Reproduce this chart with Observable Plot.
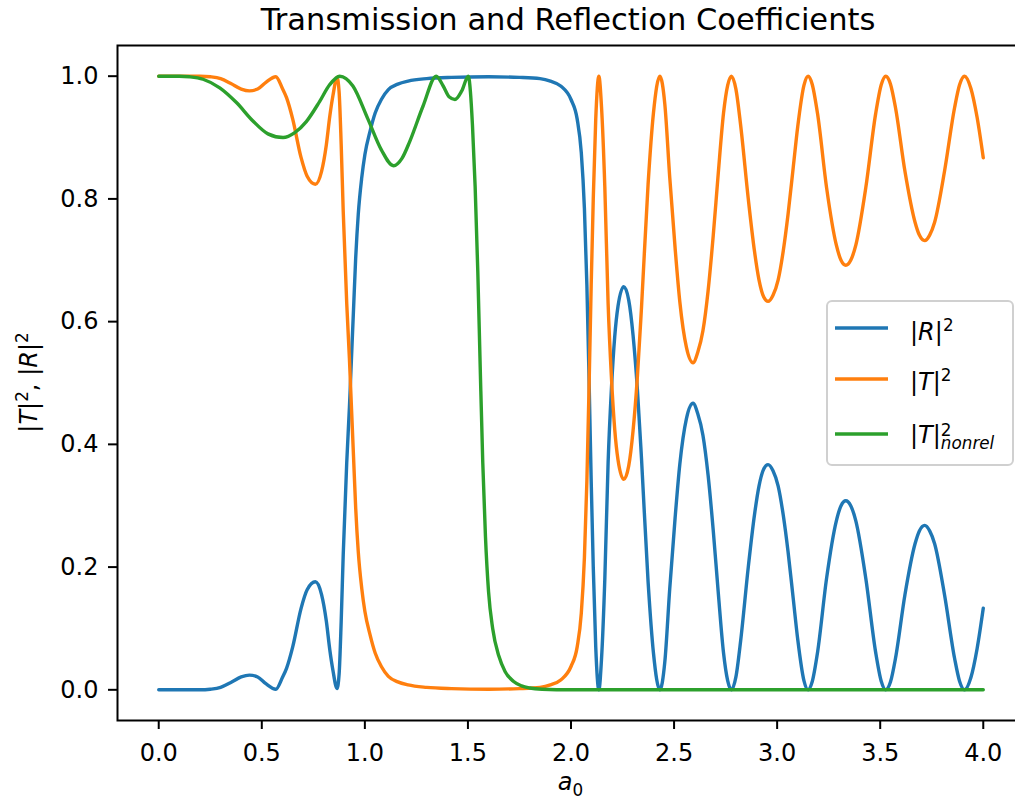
<!DOCTYPE html>
<html><head><meta charset="utf-8">
<script src="https://cdn.jsdelivr.net/npm/d3@7"></script>
<script src="https://cdn.jsdelivr.net/npm/@observablehq/plot@0.6"></script>
<style>
html,body{margin:0;padding:0;overflow:hidden;background:#fff;width:1015px;height:803px}
#chart{position:relative;width:1015px;height:803px;overflow:hidden}
</style></head><body><div id="chart"></div>
<script>
// ---- data ----
const aRel = [
 0.00,0.10,0.20,0.25,0.30,0.35,0.40,0.44,0.48,0.52,
 0.568,0.60,0.62,0.65,0.69,0.72,0.76,0.79,0.813,0.83,
 0.845,0.865,0.875,0.885,0.895,0.912,0.925,0.935,0.945,0.955,
 0.968,0.985,1.00,1.025,1.05,1.08,1.114,1.16,1.21,1.30,
 1.42,1.60,1.75,1.85,1.90,1.95,2.00,2.03,2.05,2.065,
 2.077,2.088,2.098,2.108,2.12,2.135,2.148,2.164,2.18,2.196,
 2.212,2.228,2.256,2.28,2.301,2.322,2.342,2.374,2.40,2.431,
 2.455,2.479,2.505,2.528,2.56,2.592,2.615,2.64,2.665,2.69,
 2.714,2.74,2.76,2.778,2.80,2.823,2.86,2.89,2.912,2.935,
 2.956,2.98,3.005,3.03,3.053,3.078,3.10,3.13,3.15,3.17,
 3.196,3.24,3.287,3.31,3.333,3.357,3.382,3.43,3.478,3.505,
 3.527,3.55,3.574,3.62,3.669,3.69,3.716,3.74,3.764,3.812,
 3.861,3.885,3.909,3.94,3.97,4.00
];
const T2 = [
 1.000,1.000,1.000,0.999,0.996,0.988,0.979,0.976,0.979,0.990,
 0.999,0.980,0.965,0.930,0.868,0.837,0.824,0.845,0.888,0.935,
 0.968,0.998,0.975,0.890,0.780,0.630,0.540,0.460,0.380,0.300,
 0.225,0.165,0.128,0.090,0.060,0.038,0.022,0.013,0.008,0.004,
 0.002,0.001,0.002,0.004,0.008,0.016,0.038,0.070,0.125,0.215,
 0.340,0.500,0.660,0.800,0.930,1.000,0.950,0.820,0.630,0.510,
 0.425,0.375,0.343,0.365,0.422,0.510,0.623,0.824,0.940,1.000,
 0.955,0.835,0.720,0.632,0.558,0.533,0.550,0.585,0.650,0.740,
 0.840,0.940,0.985,1.000,0.979,0.920,0.800,0.715,0.668,0.640,
 0.633,0.643,0.668,0.716,0.775,0.851,0.918,0.985,1.000,0.987,
 0.939,0.818,0.725,0.700,0.692,0.700,0.725,0.818,0.939,0.986,
 1.000,0.987,0.949,0.845,0.762,0.741,0.732,0.741,0.762,0.845,
 0.949,0.986,1.000,0.980,0.933,0.867
];
const R2 = [
 0.000,0.000,0.000,0.001,0.004,0.012,0.021,0.024,0.021,0.010,
 0.001,0.020,0.035,0.070,0.132,0.163,0.176,0.155,0.112,0.065,
 0.032,0.002,0.025,0.110,0.220,0.370,0.460,0.540,0.620,0.700,
 0.775,0.835,0.872,0.910,0.940,0.962,0.978,0.987,0.992,0.996,
 0.998,0.999,0.998,0.996,0.992,0.984,0.962,0.930,0.875,0.785,
 0.660,0.500,0.340,0.200,0.070,0.000,0.050,0.180,0.370,0.490,
 0.575,0.625,0.657,0.635,0.578,0.490,0.377,0.176,0.060,0.000,
 0.045,0.165,0.280,0.368,0.442,0.467,0.450,0.415,0.350,0.260,
 0.160,0.060,0.015,0.000,0.021,0.080,0.200,0.285,0.332,0.360,
 0.367,0.357,0.332,0.284,0.225,0.149,0.082,0.015,0.000,0.013,
 0.061,0.182,0.275,0.300,0.308,0.300,0.275,0.182,0.061,0.014,
 0.000,0.013,0.051,0.155,0.238,0.259,0.268,0.259,0.238,0.155,
 0.051,0.014,0.000,0.020,0.067,0.133
];
const aNonrel = [
 0.00,0.10,0.15,0.215,0.296,0.377,0.457,0.53,0.603,0.66,
 0.716,0.781,0.829,0.878,0.942,1.015,1.08,1.139,1.18,1.217,
 1.282,1.346,1.38,1.41,1.437,1.47,1.502,1.512,1.522,1.535,
 1.548,1.56,1.572,1.585,1.60,1.62,1.65,1.68,1.72,1.76,
 1.80,1.86,2.00,4.00
];
const T2nonrel = [
 1.000,1.000,0.999,0.995,0.981,0.957,0.927,0.906,0.900,0.908,
 0.926,0.959,0.986,1.000,0.984,0.930,0.880,0.854,0.866,0.893,
 0.951,1.000,0.984,0.966,0.962,0.976,1.000,0.975,0.920,0.820,
 0.680,0.520,0.370,0.250,0.160,0.100,0.055,0.030,0.014,0.0065,
 0.003,0.001,0.000,0.000
];
const xTicks = [0.0,0.5,1.0,1.5,2.0,2.5,3.0,3.5,4.0];
const yTicks = [0.0,0.2,0.4,0.6,0.8,1.0];
const seriesNames = ["|R|^2","|T|^2","|T|^2_nonrel"];
const seriesColors = ["#1f77b4","#ff7f0e","#2ca02c"];

const relR = aRel.map((a,i)=>({a, v:R2[i]}));
const relT = aRel.map((a,i)=>({a, v:T2[i]}));
const nonrel = aNonrel.map((a,i)=>({a, v:T2nonrel[i]}));

const lw = 3.4;
const svg = Plot.plot({
  width: 1030, height: 803,
  marginLeft: 117, marginRight: 6, marginTop: 45, marginBottom: 83,
  style: {fontFamily: "'DejaVu Sans', sans-serif", fontSize: "24px", color: "#000", background: "#fff", maxWidth: "none", overflow: "visible"},
  x: {domain: [-0.2, 4.2]},
  y: {domain: [-0.05, 1.05]},
  marks: [
    Plot.line(relR, {x:"a", y:"v", stroke: seriesColors[0], strokeWidth: lw, curve: "monotone-x"}),
    Plot.line(relT, {x:"a", y:"v", stroke: seriesColors[1], strokeWidth: lw, curve: "monotone-x"}),
    Plot.line(nonrel, {x:"a", y:"v", stroke: seriesColors[2], strokeWidth: lw, curve: "monotone-x"}),
    Plot.frame({stroke: "#000", strokeWidth: 2}),
    Plot.axisX({ticks: xTicks, tickFormat: d => d.toFixed(1), tickSize: 9, tickPadding: 14, fontSize: 24, strokeWidth: 2, label: null}),
    Plot.axisY({ticks: yTicks, tickFormat: d => d.toFixed(1), tickSize: 9, tickPadding: 10, fontSize: 24, strokeWidth: 2, label: null})
  ]
});
document.getElementById("chart").append(svg);
const s = d3.select(svg);

// title
s.append("text").attr("x", 568).attr("y", 30).attr("text-anchor", "middle")
  .attr("font-size", 30.5).attr("fill", "#000").text("Transmission and Reflection Coefficients");

// x label  a_0
const xl = s.append("text").attr("x", 570.5).attr("y", 790).attr("text-anchor", "middle")
  .attr("font-size", 24).attr("fill", "#000");
xl.append("tspan").attr("font-style", "italic").text("a");
xl.append("tspan").attr("font-size", 16.8).attr("dy", 6).text("0");

// y label |T|^2, |R|^2
const yl = s.append("text").attr("transform", "translate(37,382.5) rotate(-90)")
  .attr("text-anchor", "middle").attr("font-size", 24).attr("fill", "#000");
yl.append("tspan").text("|");
yl.append("tspan").attr("font-style", "italic").text("T");
yl.append("tspan").text("|");
yl.append("tspan").attr("font-size", 16.8).attr("dy", -9).text("2");
yl.append("tspan").attr("dy", 9).text(", |");
yl.append("tspan").attr("font-style", "italic").text("R");
yl.append("tspan").text("|");
yl.append("tspan").attr("font-size", 16.8).attr("dy", -9).text("2");

// legend
const lg = s.append("g");
lg.append("rect").attr("x", 827).attr("y", 301).attr("width", 186).attr("height", 164)
  .attr("rx", 5).attr("fill", "#fff").attr("fill-opacity", 0.8).attr("stroke", "#d0d0d0").attr("stroke-width", 2);
const ly = [328, 379, 434];
const lb = [339.5, 390, 442.5];
seriesNames.forEach((name, i) => {
  lg.append("line").attr("x1", 835).attr("x2", 888).attr("y1", ly[i]).attr("y2", ly[i])
    .attr("stroke", seriesColors[i]).attr("stroke-width", lw);
  const t = lg.append("text").attr("x", 910).attr("y", lb[i]).attr("text-anchor", "start")
    .attr("font-size", 24).attr("fill", "#000");
  const letter = name.includes("R") ? "R" : "T";
  t.append("tspan").text("|");
  t.append("tspan").attr("font-style", "italic").text(letter);
  t.append("tspan").text("|");
  if (name.endsWith("nonrel")) {
    t.append("tspan").attr("font-size", 16.8).attr("dy", -7).text("2");
    t.append("tspan").attr("font-size", 16.8).attr("font-style", "italic").attr("dx", -10.7).attr("dy", 13).text("nonrel");
  } else {
    t.append("tspan").attr("font-size", 16.8).attr("dy", -9).text("2");
  }
});
</script></body></html>
